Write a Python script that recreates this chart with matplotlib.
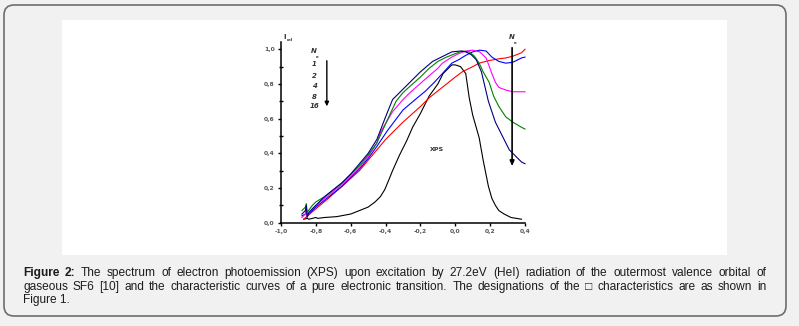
import matplotlib
matplotlib.use("Agg")
import matplotlib.pyplot as plt
from matplotlib.patches import FancyBboxPatch, Rectangle
from matplotlib.transforms import IdentityTransform
from matplotlib.ticker import FuncFormatter, MultipleLocator

# ---------------------------------------------------------------------------
# curves (x = energy axis, y = I_rel)

xps_x = [-0.87, -0.85, -0.84, -0.80, -0.79, -0.75, -0.68, -0.60, -0.55, -0.50, -0.46, -0.43, -0.405,
         -0.38, -0.36, -0.32, -0.28, -0.245, -0.20, -0.15, -0.10, -0.07, -0.04, -0.02, 0.00, 0.03,
         0.06, 0.08, 0.10, 0.137, 0.16, 0.19, 0.21, 0.23, 0.25, 0.28, 0.32, 0.38]
xps_y = [0.02, 0.025, 0.02, 0.03, 0.025, 0.03, 0.035, 0.05, 0.07, 0.09, 0.12, 0.15, 0.19,
         0.25, 0.30, 0.39, 0.47, 0.55, 0.63, 0.73, 0.80, 0.86, 0.89, 0.91, 0.91, 0.90,
         0.86, 0.72, 0.62, 0.49, 0.36, 0.21, 0.14, 0.10, 0.07, 0.05, 0.03, 0.02]

n1_x = [-0.87, -0.80, -0.74, -0.65, -0.55, -0.50, -0.45, -0.40, -0.30, -0.20, -0.15, -0.10, 0.00,
        0.04, 0.10, 0.137, 0.194, 0.25, 0.29, 0.33, 0.38, 0.40]
n1_y = [0.02, 0.08, 0.13, 0.21, 0.30, 0.36, 0.42, 0.48, 0.58, 0.67, 0.72, 0.76, 0.84,
        0.87, 0.90, 0.92, 0.935, 0.945, 0.95, 0.96, 0.98, 1.00]

n2_x = [-0.88, -0.86, -0.855, -0.85, -0.82, -0.80, -0.75, -0.70, -0.65, -0.60, -0.55, -0.50, -0.45,
        -0.39, -0.30, -0.23, -0.17, -0.12, -0.074, -0.02, 0.02, 0.06, 0.10, 0.14, 0.177, 0.21,
        0.25, 0.29, 0.33, 0.38, 0.40]
n2_y = [0.04, 0.05, 0.08, 0.04, 0.07, 0.09, 0.13, 0.17, 0.21, 0.26, 0.31, 0.37, 0.44,
        0.53, 0.65, 0.71, 0.76, 0.81, 0.86, 0.92, 0.94, 0.965, 0.985, 0.995, 0.99, 0.955,
        0.93, 0.92, 0.925, 0.95, 0.955]

n4_x = [-0.88, -0.86, -0.855, -0.85, -0.82, -0.80, -0.75, -0.70, -0.65, -0.60, -0.55, -0.50, -0.45,
        -0.43, -0.36, -0.30, -0.26, -0.17, -0.10, -0.074, -0.02, 0.02, 0.06, 0.10, 0.14, 0.177,
        0.21, 0.23, 0.25, 0.29, 0.33, 0.38, 0.40]
n4_y = [0.03, 0.05, 0.09, 0.04, 0.08, 0.10, 0.14, 0.18, 0.22, 0.27, 0.32, 0.38, 0.46,
        0.52, 0.64, 0.71, 0.75, 0.83, 0.89, 0.92, 0.955, 0.975, 0.99, 0.995, 0.985, 0.95,
        0.86, 0.81, 0.78, 0.765, 0.755, 0.755, 0.755]

n8_x = [-0.88, -0.86, -0.855, -0.85, -0.82, -0.80, -0.75, -0.70, -0.65, -0.60, -0.55, -0.50, -0.45,
        -0.40, -0.34, -0.30, -0.245, -0.20, -0.15, -0.10, -0.05, 0.00, 0.04, 0.08, 0.11, 0.137,
        0.16, 0.194, 0.22, 0.25, 0.29, 0.33, 0.38, 0.40]
n8_y = [0.07, 0.09, 0.11, 0.06, 0.10, 0.12, 0.15, 0.19, 0.23, 0.28, 0.33, 0.39, 0.46,
        0.57, 0.70, 0.75, 0.80, 0.84, 0.89, 0.93, 0.955, 0.975, 0.99, 0.985, 0.96, 0.92,
        0.87, 0.81, 0.73, 0.67, 0.61, 0.58, 0.55, 0.54]

n16_x = [-0.88, -0.86, -0.855, -0.85, -0.84, -0.82, -0.80, -0.78, -0.75, -0.70, -0.65, -0.60, -0.55,
         -0.50, -0.45, -0.40, -0.36, -0.30, -0.26, -0.20, -0.13, -0.07, -0.02, 0.03, 0.06, 0.09,
         0.12, 0.15, 0.19, 0.23, 0.27, 0.31, 0.34, 0.38, 0.40]
n16_y = [0.05, 0.07, 0.10, 0.03, 0.06, 0.08, 0.10, 0.12, 0.15, 0.19, 0.23, 0.28, 0.34,
         0.40, 0.48, 0.61, 0.71, 0.77, 0.81, 0.87, 0.93, 0.96, 0.985, 0.99, 0.985, 0.97,
         0.94, 0.87, 0.70, 0.58, 0.50, 0.42, 0.39, 0.35, 0.34]

series = [
    (xps_x, xps_y, "black"),
    (n1_x, n1_y, "#ff0000"),
    (n2_x, n2_y, "#0000ff"),
    (n4_x, n4_y, "#ff00ff"),
    (n8_x, n8_y, "#008000"),
    (n16_x, n16_y, "#000080"),
]

n_labels = ["1", "2", "4", "8", "16"]
x_ticks = [-1.0, -0.8, -0.6, -0.4, -0.2, 0.0, 0.2, 0.4]
y_ticks = [0.0, 0.2, 0.4, 0.6, 0.8, 1.0]

caption_1 = ["Figure", "2:", "The", "spectrum", "of", "electron", "photoemission", "(XPS)", "upon",
             "excitation", "by", "27.2eV", "(HeI)", "radiation", "of", "the", "outermost", "valence",
             "orbital", "of"]
caption_2 = ["gaseous", "SF6", "[10]", "and", "the", "characteristic", "curves", "of", "a", "pure",
             "electronic", "transition.", "The", "designations", "of", "the", "\u25a1", "characteristics",
             "are", "as", "shown", "in"]
caption_3 = "Figure 1."

# ---------------------------------------------------------------------------

W, H = 799, 326
fig = plt.figure(figsize=(W / 100, H / 100), dpi=100, facecolor="#f1f1f1")
ident = IdentityTransform()

# rounded frame and the white picture area
frame = FancyBboxPatch((4, H - 316), 782, 311, boxstyle="round,pad=0,rounding_size=10",
                       transform=ident, facecolor="#f1f1f1", edgecolor="#6e6e6e", lw=1.2, zorder=-3)
fig.add_artist(frame)
paper = Rectangle((62, H - 255), 665, 235, transform=ident, facecolor="white",
                  edgecolor="none", zorder=-2)
fig.add_artist(paper)

ax = fig.add_axes([281 / W, (H - 222.7) / H, 244 / W, (222.7 - 42) / H])
ax.set_facecolor("none")
ax.set_xlim(-1.0, 0.4)
ax.set_ylim(0, 1.042)

for xs, ys, c in series:
    ax.plot(xs, ys, color=c, lw=0.8, clip_on=False)

ax.spines["top"].set_visible(False)
ax.spines["right"].set_visible(False)
ax.spines["left"].set_linewidth(1.1)
ax.spines["bottom"].set_linewidth(1.1)
ax.set_xticks(x_ticks)
ax.set_yticks(y_ticks)
ax.yaxis.set_minor_locator(MultipleLocator(0.1))
comma = FuncFormatter(lambda v, p: ("%.1f" % v).replace(".", ","))
ax.xaxis.set_major_formatter(comma)
ax.yaxis.set_major_formatter(comma)
ax.tick_params(which="major", direction="out", length=2.5, width=1, labelsize=4.3,
               labelcolor="#555555", pad=2)
ax.tick_params(which="minor", direction="inout", length=3, width=1)
for lab in ax.get_xticklabels() + ax.get_yticklabels():
    lab.set_fontweight("bold")

# axis label I_rel
ax.text(-0.978, 1.07, "I", fontsize=5, fontweight="bold", color="#333333", clip_on=False,
        ha="center", va="center")
ax.text(-0.95, 1.052, "rel", fontsize=3, fontweight="bold", color="#333333", clip_on=False,
        ha="center", va="center")

# left N legend
ax.text(-0.81, 0.99, "N", fontsize=5, style="italic", fontweight="bold", color="#333333",
        ha="center", va="center")
ax.text(-0.79, 0.955, "e", fontsize=3, fontweight="bold", color="#333333", ha="center", va="center")
for lab, yy in zip(n_labels, [0.915, 0.845, 0.787, 0.725, 0.673]):
    ax.text(-0.81, yy, lab, fontsize=5, style="italic", fontweight="bold", color="#333333",
            ha="center", va="center")
ax.annotate("", xy=(-0.737, 0.655), xytext=(-0.737, 0.95),
            arrowprops=dict(arrowstyle="-|>,head_length=0.25,head_width=0.12", color="black", lw=1.0))

# right N arrow
ax.annotate("", xy=(0.326, 0.31), xytext=(0.326, 1.025),
            arrowprops=dict(arrowstyle="-|>,head_length=0.3,head_width=0.13", color="black", lw=1.2),
            annotation_clip=False)
ax.text(0.322, 1.068, "N", fontsize=5, style="italic", fontweight="bold", color="#333333",
        ha="center", va="center", clip_on=False)
ax.text(0.345, 1.035, "e", fontsize=3, fontweight="bold", color="#333333", ha="center",
        va="center", clip_on=False)

ax.text(-0.105, 0.42, "XPS", fontsize=4.5, fontweight="bold", color="#333333",
        ha="center", va="center")

# caption, justified like the web page
cap_font = ["Liberation Sans", "DejaVu Sans"]
cap_size = 8.6
cap_color = "#1c1c1c"
renderer = fig.canvas.get_renderer()


def justify(words, y, x0, x1, bold_n=0):
    texts = []
    for i, w in enumerate(words):
        t = fig.text(0, y, w, transform=ident, fontsize=cap_size, family=cap_font, color=cap_color,
                     fontweight="bold" if i < bold_n else "normal", va="center", ha="left")
        texts.append(t)
    widths = [t.get_window_extent(renderer).width for t in texts]
    gap = (x1 - x0 - sum(widths)) / (len(texts) - 1)
    x = x0
    for t, wd in zip(texts, widths):
        t.set_x(x)
        x += wd + gap


justify(caption_1, H - 273, 23, 766, bold_n=2)
justify(caption_2, H - 287, 23, 766)
fig.text(23, H - 300, caption_3, transform=ident, fontsize=cap_size, family=cap_font,
         color=cap_color, va="center", ha="left")

fig.savefig("out.png", dpi=100, facecolor=fig.get_facecolor())
